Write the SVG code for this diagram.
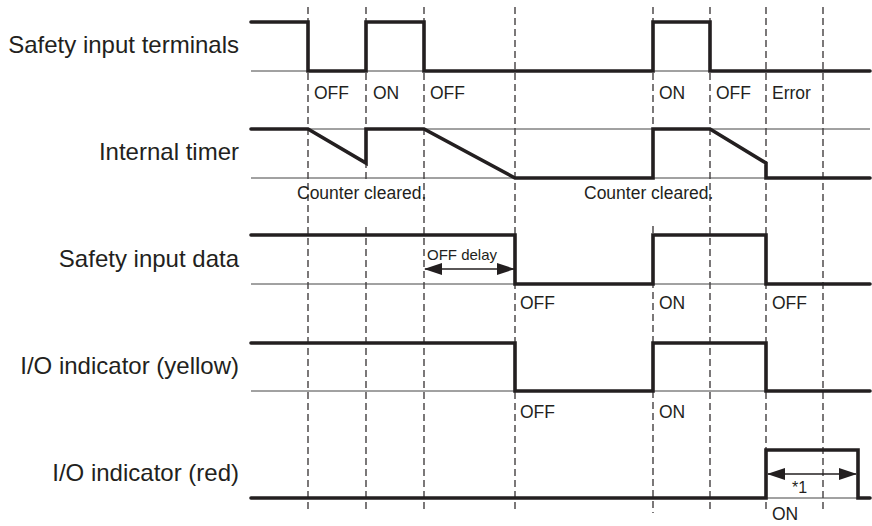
<svg xmlns="http://www.w3.org/2000/svg" width="872" height="526" viewBox="0 0 872 526">
<style>
  .lbl { font-family: "Liberation Sans", Arial, sans-serif; font-size: 24px; fill: #231f20; text-anchor: end; }
  .st { font-family: "Liberation Sans", Arial, sans-serif; font-size: 17.5px; fill: #231f20; }
  .sm { font-family: "Liberation Sans", Arial, sans-serif; font-size: 15px; fill: #231f20; }
  .wave { fill: none; stroke: #231f20; stroke-width: 3.6; stroke-linejoin: miter; stroke-linecap: round; }
  .base { fill: none; stroke: #444; stroke-width: 1; }
  .dash { fill: none; stroke: #231f20; stroke-width: 1.2; stroke-dasharray: 7 4; }
  .dim { fill: none; stroke: #231f20; stroke-width: 1.6; }
</style>
<defs>
  <marker id="ah" viewBox="0 0 18 12" refX="17" refY="6" markerWidth="18" markerHeight="12" orient="auto-start-reverse" markerUnits="userSpaceOnUse">
    <path d="M0,0 L18,6 L0,12 z" fill="#231f20"/>
  </marker>
</defs>
<rect width="872" height="526" fill="#ffffff"/>

<g id="guides">
  <line class="dash" x1="308" y1="7" x2="308" y2="513"/>
  <path class="dash" d="M366,7 V180 M366,227 V513"/>
  <line class="dash" x1="424" y1="7" x2="424" y2="513"/>
  <line class="dash" x1="515" y1="7" x2="515" y2="513"/>
  <path class="dash" d="M653,7 V180 M653,226 V513"/>
  <line class="dash" x1="710" y1="7" x2="710" y2="513"/>
  <line class="dash" x1="766" y1="7" x2="766" y2="513"/>
  <line class="dash" x1="823" y1="7" x2="823" y2="513"/>
</g>

<g id="safety-input-terminals">
  <text class="lbl" x="239" y="53">Safety input terminals</text>
  <line class="base" x1="251" y1="71" x2="870" y2="71"/>
  <path class="wave" d="M251,22 H308 V71 H366 V22 H424 V71 H653 V22 H710 V71 H870"/>
  <text class="st" x="314" y="99">OFF</text>
  <text class="st" x="373" y="99">ON</text>
  <text class="st" x="430" y="99">OFF</text>
  <text class="st" x="659" y="99">ON</text>
  <text class="st" x="716" y="99">OFF</text>
  <text class="st" x="772" y="99">Error</text>
</g>

<g id="internal-timer">
  <text class="lbl" x="239" y="160">Internal timer</text>
  <line class="base" x1="251" y1="129" x2="870" y2="129"/>
  <line class="base" x1="251" y1="178" x2="870" y2="178"/>
  <path class="wave" d="M251,129 H308 L366,163 V129 H424 L515,178 H653 V129 H710 L766,163 V178 H870"/>
  <text class="st" x="297" y="199">Counter cleared.</text>
  <text class="st" x="584" y="199">Counter cleared.</text>
</g>

<g id="safety-input-data">
  <text class="lbl" x="239" y="267">Safety input data</text>
  <line class="base" x1="251" y1="284" x2="870" y2="284"/>
  <path class="wave" d="M251,235 H515 V284 H653 V235 H766 V284 H870"/>
  <text class="sm" x="427" y="260">OFF delay</text>
  <line class="dim" x1="425" y1="269" x2="514" y2="269" marker-start="url(#ah)" marker-end="url(#ah)"/>
  <text class="st" x="520" y="309">OFF</text>
  <text class="st" x="659" y="309">ON</text>
  <text class="st" x="772" y="309">OFF</text>
</g>

<g id="io-indicator-yellow">
  <text class="lbl" x="239" y="374">I/O indicator (yellow)</text>
  <line class="base" x1="251" y1="391" x2="870" y2="391"/>
  <path class="wave" d="M251,343 H515 V391 H653 V343 H766 V391 H870"/>
  <text class="st" x="520" y="418">OFF</text>
  <text class="st" x="659" y="418">ON</text>
</g>

<g id="io-indicator-red">
  <text class="lbl" x="239" y="481">I/O indicator (red)</text>
  <line class="base" x1="251" y1="498" x2="870" y2="498"/>
  <path class="wave" d="M251,498 H766 V450 H858 V498 H870"/>
  <line class="dim" x1="768" y1="474" x2="856" y2="474" marker-start="url(#ah)" marker-end="url(#ah)"/>
  <text class="sm" x="792" y="493" style="font-size:16px">*1</text>
  <text class="st" x="772" y="520">ON</text>
</g>
</svg>
